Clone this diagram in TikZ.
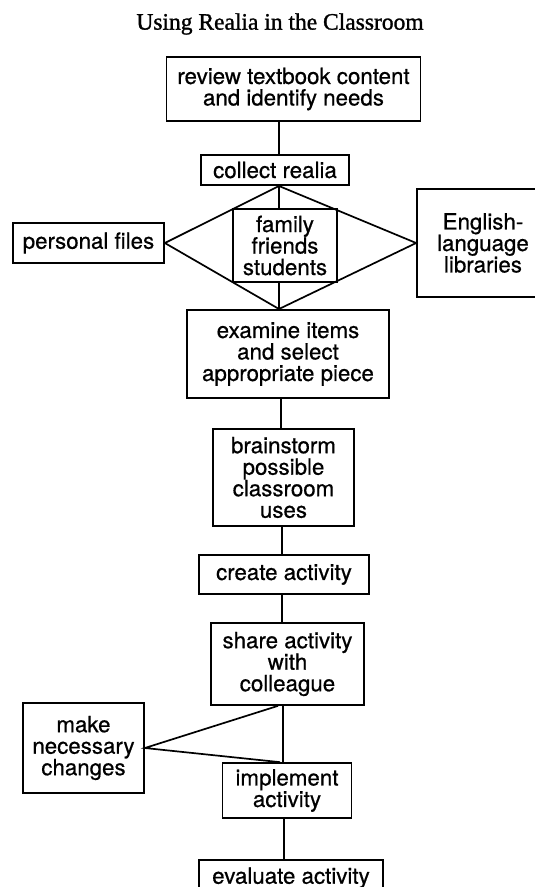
\documentclass[tikz,border=0pt]{standalone}
\usepackage{fontspec}
\setmainfont{TeX Gyre Heros}[FakeBold=0.6]
\newfontfamily\titlefont{Liberation Serif}[FakeBold=1.2]
\begin{document}
\begin{tikzpicture}[x={(1pt,0)},y={(0,-1pt)},
  box/.style={draw,line width=1.7pt,inner sep=0pt,align=center,
    font=\fontsize{22.3}{21.5}\selectfont},
  link/.style={line width=1.7pt,line join=miter}]
\useasboundingbox (0,0) rectangle (535,887);
\clip (0,0) rectangle (535,887);
\fill[white] (0,0) rectangle (535,887);

\node[font=\titlefont\fontsize{23.5}{24}\selectfont] (title) at (280,24) {Using Realia in the Classroom};

\node[box,minimum width=254pt,minimum height=64pt] (n1) at (293.5,89) {review textbook content\\and identify needs};
\node[box,minimum width=148pt,minimum height=30pt] (n2) at (275,170) {collect realia};
\node[box,minimum width=104pt,minimum height=73pt] (n3) at (285,245.5) {family\\friends\\students};
\node[box,minimum width=151pt,minimum height=40pt] (n4) at (88.5,243) {personal files};
\node[box,minimum width=132pt,minimum height=108pt] (n5) at (483,243) {English-\\language\\libraries};
\node[box,minimum width=202pt,minimum height=88pt] (n6) at (288,354) {examine items\\and select\\appropriate piece};
\node[box,minimum width=141pt,minimum height=97pt] (n7) at (283.5,477.5) {brainstorm\\possible\\classroom\\uses};
\node[box,minimum width=170pt,minimum height=39pt] (n8) at (284,574.5) {create activity};
\node[box,minimum width=153pt,minimum height=82pt] (n9) at (287.5,664) {share activity\\with\\colleague};
\node[box,minimum width=121pt,minimum height=90pt] (n10) at (83.5,748) {make\\necessary\\changes};
\node[box,minimum width=129pt,minimum height=55pt] (n11) at (287,790.5) {implement\\activity};
\node[box,minimum width=184pt,minimum height=36pt] (n12) at (291,878) {evaluate activity};

% diamond
\coordinate (dt) at (279,186);
\coordinate (dl) at (n4.east);
\coordinate (dr) at (n5.west);
\coordinate (db) at (279,309);
\draw[link] (dt) -- (dl) -- (db) -- (dr) -- cycle;
\draw[link] (dt) -- (n3.north -| dt);
\draw[link] (n3.south -| db) -- (db);

\draw[link] (n1.south -| dt) -- (n2.north -| dt);
\draw[link] (n6.south -| 281,0) -- (n7.north -| 281,0);
\draw[link] (n7.south -| 282,0) -- (n8.north -| 282,0);
\draw[link] (n8.south -| 282,0) -- (n9.north -| 282,0);

\coordinate (sb) at (n9.south -| 278,0);
\coordinate (it) at (n11.north -| 280,0);
\draw[link] (sb) -- (n10.east) -- (it);
\draw[link] (n9.south -| 283,0) -- (n11.north -| 283,0);
\draw[link] (n11.south -| 284,0) -- (n12.north -| 284,0);
\end{tikzpicture}
\end{document}
